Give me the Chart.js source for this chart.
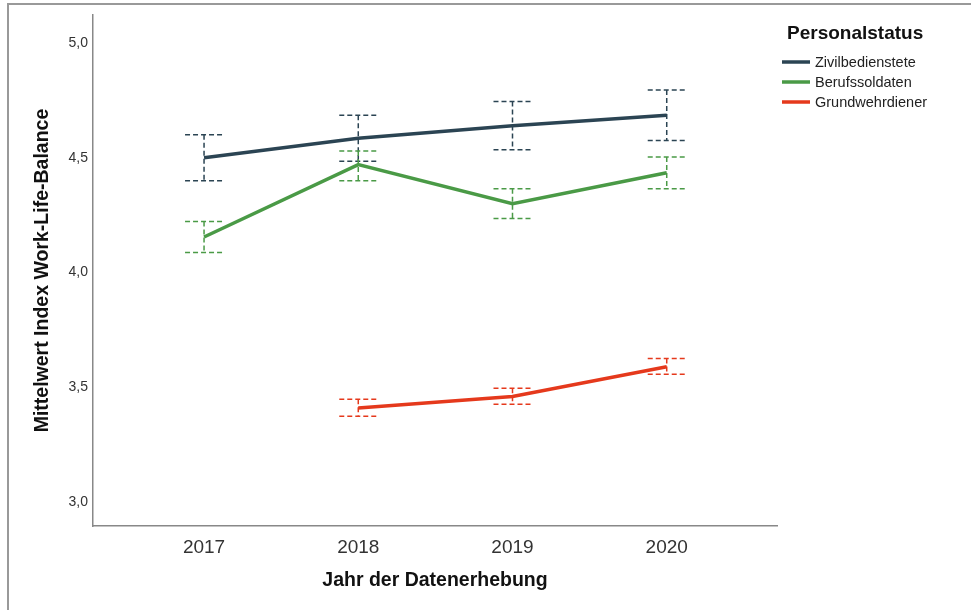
<!DOCTYPE html>
<html>
<head>
<meta charset="utf-8">
<script src="https://cdn.jsdelivr.net/npm/chart.js@4.4.0/dist/chart.umd.min.js"></script>
<style>
  body { margin: 0; background: #fff; }
  #wrap { position: relative; width: 971px; height: 610px; }
</style>
</head>
<body>
<div id="wrap"><canvas id="wlbChart"></canvas></div>
<script>
// Jahre und Mittelwerte je Personalstatus
const years = [2017, 2018, 2019, 2020];
const seriesNames = ['Zivilbedienstete', 'Berufssoldaten', 'Grundwehrdiener'];
const seriesColors = ['#2b4453', '#4a9a46', '#e5391c'];

const zivilMean = [4.50, 4.585, 4.64, 4.685];
const zivilLow  = [4.40, 4.485, 4.535, 4.575];
const zivilHigh = [4.60, 4.685, 4.745, 4.795];

const berufMean = [4.155, 4.47, 4.30, 4.435];
const berufLow  = [4.087, 4.40, 4.235, 4.365];
const berufHigh = [4.222, 4.53, 4.365, 4.503];

const grundMean = [null, 3.41, 3.46, 3.59];
const grundLow  = [null, 3.374, 3.426, 3.557];
const grundHigh = [null, 3.448, 3.496, 3.626];

const yTicks = [3.0, 3.5, 4.0, 4.5, 5.0];

const means = [zivilMean, berufMean, grundMean];
const lows = [zivilLow, berufLow, grundLow];
const highs = [zivilHigh, berufHigh, grundHigh];

const FONT = '"Liberation Sans", Arial, sans-serif';

const toPoints = arr => years
    .map((yr, i) => ({ x: yr, y: arr[i] }))
    .filter(p => p.y !== null);

// Fehlerbalken (gestrichelt) hinter den Linien
const errorBars = {
    id: 'errorBars',
    beforeDatasetsDraw(chart) {
        const { ctx, scales: { x, y } } = chart;
        ctx.save();
        ctx.lineWidth = 1.5;
        ctx.setLineDash([5, 3]);
        means.forEach((m, s) => {
            ctx.strokeStyle = seriesColors[s];
            years.forEach((yr, i) => {
                if (m[i] === null) return;
                const px = x.getPixelForValue(yr);
                const lo = y.getPixelForValue(lows[s][i]);
                const hi = y.getPixelForValue(highs[s][i]);
                ctx.beginPath();
                ctx.moveTo(px, hi); ctx.lineTo(px, lo);
                ctx.moveTo(px - 19, hi); ctx.lineTo(px + 19, hi);
                ctx.moveTo(px - 19, lo); ctx.lineTo(px + 19, lo);
                ctx.stroke();
            });
        });
        ctx.restore();
    }
};

// Legende rechts oben + Rahmen
const sideLegend = {
    id: 'sideLegend',
    afterDraw(chart) {
        const ctx = chart.ctx;
        ctx.save();
        ctx.strokeStyle = '#999';
        ctx.lineWidth = 2;
        ctx.beginPath();
        ctx.moveTo(8, 610); ctx.lineTo(8, 4); ctx.lineTo(971, 4);
        ctx.stroke();

        ctx.fillStyle = '#111';
        ctx.textBaseline = 'middle';
        ctx.font = 'bold 19px ' + FONT;
        ctx.fillText('Personalstatus', 787, 34);
        ctx.font = '14.5px ' + FONT;
        chart.data.datasets.forEach((ds, i) => {
            const ly = 62 + i * 20;
            ctx.strokeStyle = ds.borderColor;
            ctx.lineWidth = 3.5;
            ctx.beginPath();
            ctx.moveTo(782, ly); ctx.lineTo(810, ly);
            ctx.stroke();
            ctx.fillStyle = '#222';
            ctx.fillText(ds.label, 815, ly + 1);
        });
        ctx.restore();
    }
};

new Chart(document.getElementById('wlbChart'), {
    type: 'line',
    data: {
        datasets: means.map((m, s) => ({
            label: seriesNames[s],
            data: toPoints(m),
            borderColor: seriesColors[s],
            borderWidth: 3.5,
            pointRadius: 0,
            tension: 0,
            fill: false
        }))
    },
    options: {
        responsive: true,
        maintainAspectRatio: false,
        animation: false,
        layout: { padding: { top: 15, right: 194, left: 0, bottom: 0 } },
        plugins: { legend: { display: false }, tooltip: { enabled: false } },
        scales: {
            x: {
                type: 'linear',
                min: 2016.28,
                max: 2020.715,
                afterFit: s => { s.height = 84; },
                afterBuildTicks: s => { s.ticks = years.map(v => ({ value: v })); },
                grid: { display: false, drawTicks: false },
                border: { display: true, color: '#888', width: 1.5 },
                ticks: {
                    padding: 10,
                    color: '#333',
                    font: { family: FONT, size: 19 },
                    callback: v => String(v)
                },
                title: {
                    display: true,
                    text: 'Jahr der Datenerhebung',
                    color: '#111',
                    padding: { top: 0, bottom: 17.5 },
                    font: { family: FONT, size: 19.5, weight: 'bold' }
                }
            },
            y: {
                min: 2.896,
                max: 5.122,
                afterFit: s => { s.width = 93; },
                afterBuildTicks: s => { s.ticks = yTicks.map(v => ({ value: v })); },
                grid: { display: false, drawTicks: false },
                border: { display: true, color: '#888', width: 1.5 },
                ticks: {
                    padding: 5,
                    color: '#333',
                    font: { family: FONT, size: 14 },
                    callback: v => v.toFixed(1).replace('.', ',')
                },
                title: {
                    display: true,
                    text: 'Mittelwert Index Work-Life-Balance',
                    color: '#111',
                    padding: { top: 31, bottom: 0 },
                    font: { family: FONT, size: 19.5, weight: 'bold' }
                }
            }
        }
    },
    plugins: [errorBars, sideLegend]
});
</script>
</body>
</html>
